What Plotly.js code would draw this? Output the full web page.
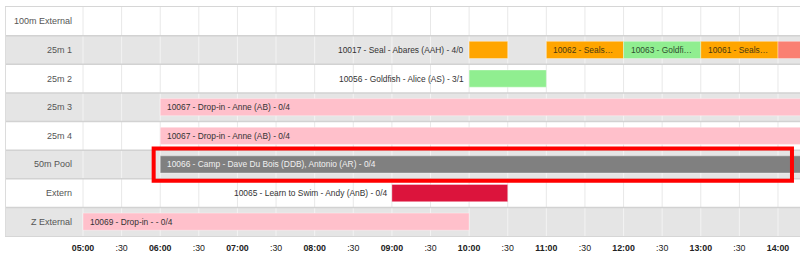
<!DOCTYPE html>
<html><head><meta charset="utf-8">
<script src="https://cdn.plot.ly/plotly-3.0.1.min.js"></script>
<style>html,body{margin:0;padding:0;background:#fff;overflow:hidden}</style>
</head><body><div id="chart" style="width:800px;height:264px"></div>
<script>
// ---- data ----
const rows = ["100m External","25m 1","25m 2","25m 3","25m 4","50m Pool","Extern","Z External"];
const evRow   = [1, 1, 1, 1, 1, 2, 3, 4, 5, 6, 7];
const evStart = [10, 11, 12, 13, 14, 10, 6, 6, 6, 9, 5];
const evEnd   = [10.5, 12, 13, 14, 15, 11, 15, 15, 15, 10.5, 10];
const evColor = ["#FFA500","#FFA500","#90EE90","#FFA500","#FA8072","#90EE90","#FFC0CB","#FFC0CB","#808080","#DC143C","#FFC0CB"];
const evLabel = [
  "10017 - Seal - Abares (AAH) - 4/0",
  "10062 - Seals…",
  "10063 - Goldfi…",
  "10061 - Seals…",
  "",
  "10056 - Goldfish - Alice (AS) - 3/1",
  "10067 - Drop-in - Anne (AB) - 0/4",
  "10067 - Drop-in - Anne (AB) - 0/4",
  "10066 - Camp - Dave Du Bois (DDB), Antonio (AR) - 0/4",
  "10065 - Learn to Swim - Andy (AnB) - 0/4",
  "10069 - Drop-in - - 0/4"
];
const evInside = [false, true, true, true, true, false, true, true, true, false, true];
const evTextColor = ["#333","#4a3a10","#2f4f2f","#4a3a10","#333","#333","#333","#333","#f0f0f0","#333","#333"];
const highlightEvent = 8;
const tickVals = [5,5.5,6,6.5,7,7.5,8,8.5,9,9.5,10,10.5,11,11.5,12,12.5,13,13.5,14];
const tickText = ["05:00",":30","06:00",":30","07:00",":30","08:00",":30","09:00",":30","10:00",":30","11:00",":30","12:00",":30","13:00",":30","14:00"];

// ---- view ----
const X0 = 4.0028, X1 = 14.285;
const FONT = "Liberation Sans, Arial, sans-serif";

const shapes = [];
// row backgrounds
rows.forEach((r, i) => {
  if (i % 2 === 1) {
    shapes.push({type:"rect", xref:"x", yref:"y", x0:X0, x1:X1, y0:i-0.5, y1:i+0.5,
      fillcolor:"#e5e5e5", line:{width:0}, layer:"below"});
  }
});
// vertical grid lines per row (lighter on grey rows)
rows.forEach((r, i) => {
  tickVals.forEach(t => {
    shapes.push({type:"line", xref:"x", yref:"y", x0:t, x1:t, y0:i-0.5, y1:i+0.5,
      line:{color: i % 2 === 1 ? "#f3f3f3" : "#e8e8e8", width:1}, layer:"below"});
  });
});
// row separators
for (let i = 1; i < rows.length; i++) {
  shapes.push({type:"line", xref:"x", yref:"y", x0:X0, x1:X1, y0:i-0.5, y1:i-0.5,
    line:{color:"#d2d2d2", width:1.5}, layer:"below"});
}
// highlight rectangle around the selected event
shapes.push({type:"rect", xref:"x", yref:"y",
  x0: evStart[highlightEvent] - 0.085, x1: X1 - 0.104,
  y0: evRow[highlightEvent] - 0.56, y1: evRow[highlightEvent] + 0.568,
  line:{color:"#ff0000", width:4}, fillcolor:"rgba(0,0,0,0)", layer:"above"});

const annotations = [];
rows.forEach((r, i) => {
  annotations.push({x:4.883, y:i, xref:"x", yref:"y", text:r, showarrow:false,
    xanchor:"right", yanchor:"middle", font:{family:FONT, size:9, color:"#555"}});
});
evLabel.forEach((t, k) => {
  if (!t) return;
  annotations.push({x:evStart[k], y:evRow[k], xref:"x", yref:"y", text:t, showarrow:false,
    xanchor: evInside[k] ? "left" : "right", yanchor:"middle",
    xshift: evInside[k] ? 5 : -3,
    font:{family:FONT, size:8.4, color:evTextColor[k]}});
});

const trace = {
  type:"bar", orientation:"h",
  y: evRow, base: evStart, x: evEnd.map((e, k) => e - evStart[k]),
  width: 0.6,
  marker:{color: evColor, line:{color:"rgba(255,255,255,0.35)", width:1}},
  hoverinfo:"skip", textposition:"none"
};

const layout = {
  width:800, height:264,
  margin:{l:6, r:0, t:7, b:28, pad:0},
  paper_bgcolor:"#fff", plot_bgcolor:"#fff",
  showlegend:false, barmode:"overlay",
  xaxis:{range:[X0, X1], tickmode:"array", tickvals:tickVals,
    ticktext: tickText.map(s => s.startsWith(":") ? s : "<b>" + s + "</b>"),
    showgrid:false, zeroline:false, ticks:"", showline:true, mirror:true,
    linecolor:"#d6d6d6", linewidth:1, ticklabelstandoff:3,
    tickfont:{family:FONT, size:8.8, color:"#222"}, fixedrange:true},
  yaxis:{range:[rows.length - 0.5, -0.5], showticklabels:false, showgrid:false,
    zeroline:false, showline:true, linecolor:"#dcdcdc", linewidth:1, fixedrange:true},
  shapes: shapes, annotations: annotations,
  font:{family:FONT}
};

Plotly.newPlot("chart", [trace], layout, {displayModeBar:false, staticPlot:true});
</script></body></html>
